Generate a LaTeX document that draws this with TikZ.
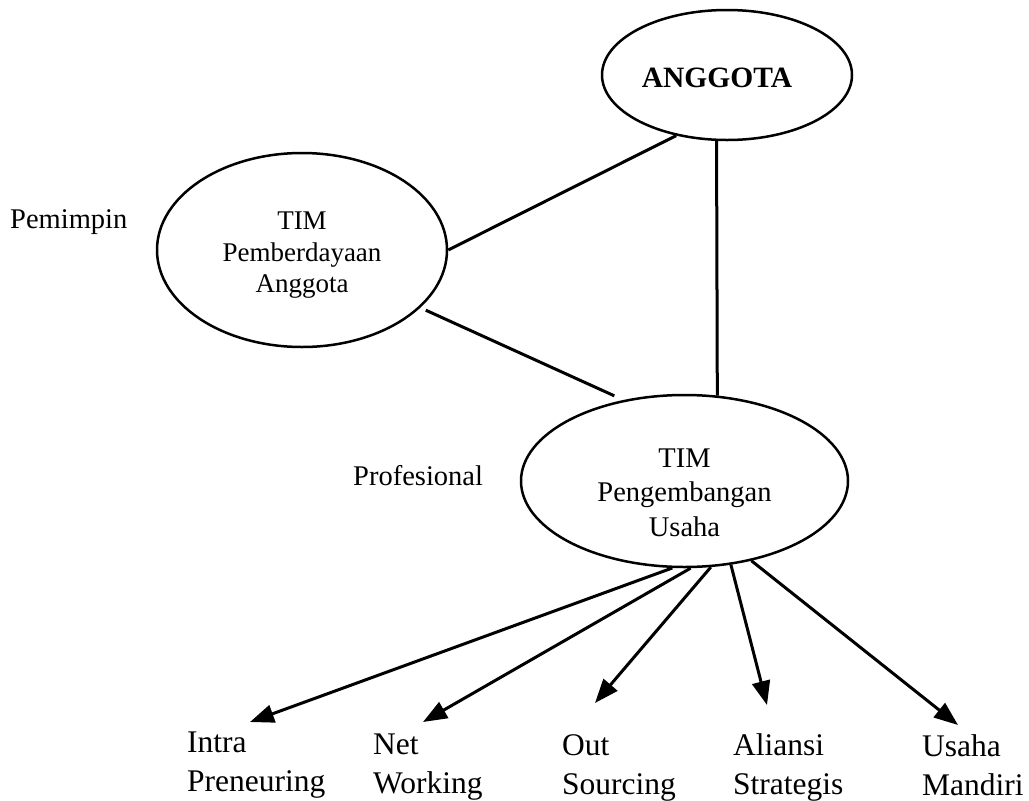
\documentclass[tikz,border=0pt]{standalone}
\usepackage{fontspec}
\setmainfont{Liberation Serif}
\usetikzlibrary{shapes.geometric,arrows.meta}
\begin{document}
\begin{tikzpicture}[x=1pt,y=-1pt,
  oval/.style={draw, ellipse, line width=2.5pt, inner sep=0pt, align=center},
  link/.style={line width=3pt},
  arr/.style={line width=3pt, -{Triangle[length=24pt,width=18pt]}},
  side/.style={font=\fontsize{28.5}{34}\selectfont, anchor=base west, inner sep=0pt},
  leaf/.style={font=\fontsize{31.5}{38.5}\selectfont, anchor=base west, align=left, inner sep=0pt}]
\useasboundingbox (0,0) rectangle (1029,801);

\node[oval, minimum width=250pt, minimum height=130pt, font=\bfseries\fontsize{29.5}{34}\selectfont] (anggota) at (727,75) {\rule{0pt}{26pt}ANGGOTA\hspace{20pt}};
\node[oval, minimum width=290pt, minimum height=194pt, font=\fontsize{27}{31.5}\selectfont] (pemb) at (302,250) {\rule{0pt}{28pt}TIM\\Pemberdayaan\\Anggota};
\node[oval, minimum width=327pt, minimum height=172pt, font=\fontsize{28.5}{34.5}\selectfont] (peng) at (684.5,481) {\rule{0pt}{42pt}TIM\\Pengembangan\\Usaha};

\node[side] (pemimpin) at (10,228) {Pemimpin};
\node[side] (prof) at (353,485) {Profesional};

\node[leaf] (intra) at (187,791) {Intra\\Preneuring};
\node[leaf] (net) at (373,793) {Net\\Working};
\node[leaf] (out) at (562,794) {Out\\Sourcing};
\node[leaf] (aliansi) at (733,794) {Aliansi\\Strategis};
\node[leaf] (usaha) at (922,795) {Usaha\\Mandiri};

\coordinate (t1) at (250,722);
\coordinate (t2) at (423,722);
\coordinate (t3) at (595,703);
\coordinate (t4) at (767,705);
\coordinate (t5) at (958,725);

\draw[link] (anggota.230) -- (pemb.east);
\draw[link, shorten <=6pt, shorten >=10pt] (pemb.-26) -- (peng.127);
\draw[link] (anggota.261) -- (peng.69);

\draw[arr] (peng.262) -- (t1);
\draw[arr] (peng.274) -- (t2);
\draw[arr] (peng.287) -- (t3);
\draw[arr] (peng.299) -- (t4);
\draw[arr] (peng.310) -- (t5);
\end{tikzpicture}
\end{document}
